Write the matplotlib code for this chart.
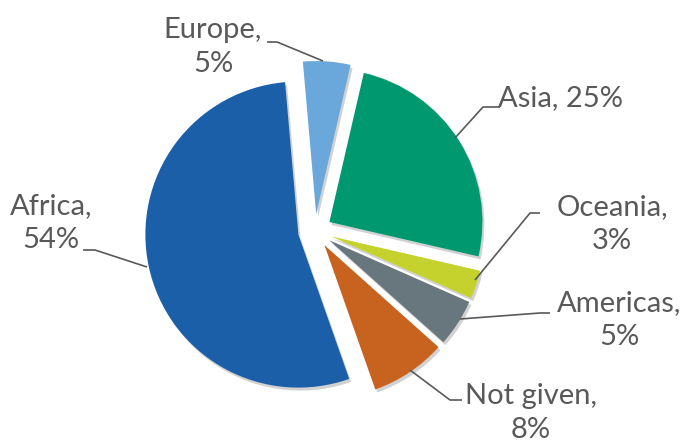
import matplotlib.pyplot as plt

# data
regions = ['Europe', 'Asia', 'Oceania', 'Americas', 'Not given', 'Africa']
shares = [5, 25, 3, 5, 8, 54]
colours = ['#6AA8DC', '#00996F', '#C5D12D', '#68767E', '#C8621F', '#1B5FA8']

fig = plt.figure(figsize=(6.84, 4.43), dpi=100)
ax = fig.add_axes([0, 0, 1, 1])

# pie drawn in pixel units, y axis points down so counterclock flips to clockwise
cx, cy, r = 315, 231, 153
gap = 17  # explode offset in pixels

# soft shadow first
ax.pie(shares, colors=['#000000'] * len(shares), startangle=-95, counterclock=True,
       explode=[gap] * len(shares), radius=r, center=(cx + 2, cy + 3),
       wedgeprops=dict(linewidth=0, alpha=0.18), frame=True)
wedges, _ = ax.pie(shares, colors=colours, startangle=-95, counterclock=True,
                   explode=[gap] * len(shares), radius=r, center=(cx, cy),
                   wedgeprops=dict(linewidth=0), frame=True)
ax.set_xlim(0, 684)
ax.set_ylim(443, 0)
ax.set_aspect('equal')
ax.axis('off')

tc = '#595959'
fnt = dict(family=['Lato', 'DejaVu Sans'], fontsize=21, color=tc)

# label position, alignment, leader line
labels = {
    'Europe':    ((213, 47), 'center', [(267, 42), (277, 42), (323, 61)]),
    'Asia':      ((498, 98), 'left', [(500, 107), (483, 107), (455, 138)]),
    'Oceania':   ((612, 224), 'center', [(540, 213), (530, 213), (475, 280)]),
    'Americas':  ((619, 320), 'center', [(550, 313), (540, 313), (460, 319)]),
    'Not given': ((531, 413), 'center', [(462, 400), (450, 400), (410, 370)]),
    'Africa':    ((51, 223), 'center', [(83, 250), (95, 250), (147, 267)]),
}
for name, v in zip(regions, shares):
    (x, y), ha, pts = labels[name]
    if name == 'Asia':
        txt = f'{name}, {v}%'
    else:
        txt = f'{name},\n{v}%'
    ax.text(x, y, txt, ha=ha, va='center', linespacing=1.35, **fnt)
    ax.plot([p[0] for p in pts], [p[1] for p in pts], color=tc, lw=1.2,
            solid_capstyle='butt')

fig.savefig('out.png', dpi=100)
